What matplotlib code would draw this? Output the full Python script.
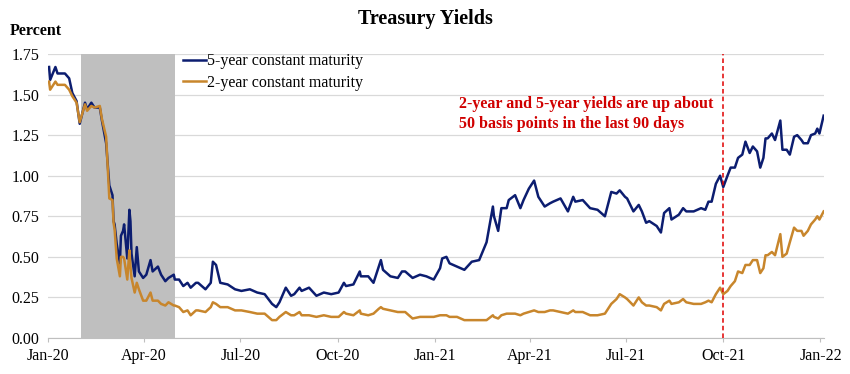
import matplotlib
matplotlib.use("Agg")
import matplotlib.pyplot as plt
import matplotlib.dates as mdates
import numpy as np
import pandas as pd

# dates of the readings (irregular, denser where the lines move a lot)
dates = [
    "2020-01-02", "2020-01-03", "2020-01-08", "2020-01-10", "2020-01-17", "2020-01-21",
    "2020-01-24", "2020-01-28", "2020-01-31", "2020-02-05", "2020-02-07", "2020-02-11",
    "2020-02-14", "2020-02-19", "2020-02-21", "2020-02-25", "2020-02-28", "2020-03-02",
    "2020-03-03", "2020-03-04", "2020-03-06", "2020-03-09", "2020-03-10", "2020-03-12",
    "2020-03-13", "2020-03-16", "2020-03-18", "2020-03-19", "2020-03-20", "2020-03-23",
    "2020-03-25", "2020-03-27", "2020-03-31", "2020-04-03", "2020-04-07", "2020-04-09",
    "2020-04-14", "2020-04-17", "2020-04-21", "2020-04-24", "2020-04-29", "2020-04-30",
    "2020-05-04", "2020-05-08", "2020-05-12", "2020-05-15", "2020-05-20", "2020-05-22",
    "2020-05-29", "2020-06-03", "2020-06-05", "2020-06-08", "2020-06-12", "2020-06-19",
    "2020-06-26", "2020-07-02", "2020-07-10", "2020-07-17", "2020-07-24", "2020-07-31",
    "2020-08-04", "2020-08-07", "2020-08-13", "2020-08-18", "2020-08-21", "2020-08-26",
    "2020-08-28", "2020-09-04", "2020-09-11", "2020-09-18", "2020-09-25", "2020-10-02",
    "2020-10-07", "2020-10-09", "2020-10-16", "2020-10-22", "2020-10-23", "2020-10-30",
    "2020-11-04", "2020-11-09", "2020-11-11", "2020-11-13", "2020-11-20", "2020-11-27",
    "2020-12-01", "2020-12-04", "2020-12-11", "2020-12-18", "2020-12-24", "2020-12-31",
    "2021-01-06", "2021-01-08", "2021-01-12", "2021-01-15", "2021-01-22", "2021-01-29",
    "2021-02-05", "2021-02-12", "2021-02-19", "2021-02-25", "2021-02-26", "2021-03-02",
    "2021-03-05", "2021-03-10", "2021-03-12", "2021-03-18", "2021-03-23", "2021-03-26",
    "2021-03-31", "2021-04-05", "2021-04-09", "2021-04-15", "2021-04-20", "2021-04-23",
    "2021-04-30", "2021-05-07", "2021-05-12", "2021-05-14", "2021-05-21", "2021-05-28",
    "2021-06-04", "2021-06-11", "2021-06-17", "2021-06-22", "2021-06-25", "2021-06-30",
    "2021-07-02", "2021-07-08", "2021-07-13", "2021-07-16", "2021-07-20", "2021-07-23",
    "2021-07-30", "2021-08-03", "2021-08-06", "2021-08-11", "2021-08-13", "2021-08-20",
    "2021-08-24", "2021-08-27", "2021-09-03", "2021-09-10", "2021-09-14", "2021-09-17",
    "2021-09-20", "2021-09-24", "2021-09-28", "2021-10-01", "2021-10-05", "2021-10-08",
    "2021-10-12", "2021-10-15", "2021-10-19", "2021-10-22", "2021-10-26", "2021-10-29",
    "2021-11-02", "2021-11-05", "2021-11-08", "2021-11-10", "2021-11-12", "2021-11-16",
    "2021-11-19", "2021-11-24", "2021-11-26", "2021-11-30", "2021-12-03", "2021-12-07",
    "2021-12-10", "2021-12-14", "2021-12-16", "2021-12-20", "2021-12-23", "2021-12-27",
    "2021-12-29", "2021-12-31", "2022-01-04",
]

# 5-year constant maturity, percent
five_year = [
    1.67, 1.59, 1.67, 1.63, 1.63, 1.60,
    1.51, 1.46, 1.32, 1.45, 1.41, 1.45,
    1.42, 1.42, 1.34, 1.20, 0.94, 0.88,
    0.72, 0.70, 0.58, 0.46, 0.63, 0.66,
    0.70, 0.49, 0.79, 0.72, 0.52, 0.38,
    0.56, 0.41, 0.37, 0.39, 0.48, 0.41,
    0.44, 0.39, 0.35, 0.37, 0.39, 0.36,
    0.36, 0.32, 0.34, 0.31, 0.34, 0.34,
    0.30, 0.34, 0.47, 0.45, 0.34, 0.33,
    0.30, 0.29, 0.30, 0.28, 0.27, 0.21,
    0.19, 0.22, 0.31, 0.26, 0.27, 0.31,
    0.29, 0.31, 0.26, 0.28, 0.27, 0.28,
    0.34, 0.32, 0.33, 0.41, 0.38, 0.38,
    0.34, 0.44, 0.48, 0.42, 0.38, 0.37,
    0.41, 0.41, 0.37, 0.39, 0.38, 0.36,
    0.43, 0.49, 0.50, 0.46, 0.44, 0.42,
    0.47, 0.48, 0.59, 0.81, 0.75, 0.66,
    0.80, 0.80, 0.85, 0.88, 0.80, 0.85,
    0.92, 0.97, 0.87, 0.81, 0.83, 0.84,
    0.86, 0.78, 0.87, 0.84, 0.85, 0.80,
    0.79, 0.75, 0.90, 0.89, 0.91, 0.87,
    0.86, 0.78, 0.82, 0.78, 0.71, 0.72,
    0.69, 0.65, 0.77, 0.80, 0.73, 0.76,
    0.80, 0.78, 0.78, 0.80, 0.79, 0.84,
    0.84, 0.95, 1.00, 0.93, 1.00, 1.05,
    1.05, 1.11, 1.13, 1.21, 1.14, 1.18,
    1.15, 1.05, 1.11, 1.23, 1.23, 1.26,
    1.22, 1.34, 1.16, 1.16, 1.13, 1.24,
    1.25, 1.22, 1.20, 1.20, 1.25, 1.26,
    1.29, 1.26, 1.37,
]

# 2-year constant maturity, percent
two_year = [
    1.58, 1.53, 1.58, 1.56, 1.56, 1.53,
    1.49, 1.45, 1.33, 1.44, 1.40, 1.43,
    1.42, 1.43, 1.35, 1.24, 0.86, 0.85,
    0.71, 0.67, 0.49, 0.38, 0.50, 0.50,
    0.49, 0.36, 0.54, 0.44, 0.37, 0.28,
    0.34, 0.30, 0.23, 0.23, 0.28, 0.23,
    0.23, 0.21, 0.20, 0.22, 0.20, 0.20,
    0.19, 0.16, 0.17, 0.14, 0.17, 0.17,
    0.16, 0.19, 0.22, 0.21, 0.19, 0.19,
    0.17, 0.17, 0.16, 0.15, 0.15, 0.11,
    0.11, 0.13, 0.16, 0.14, 0.14, 0.16,
    0.14, 0.14, 0.13, 0.14, 0.13, 0.13,
    0.16, 0.15, 0.14, 0.17, 0.15, 0.14,
    0.15, 0.18, 0.19, 0.18, 0.17, 0.16,
    0.16, 0.16, 0.12, 0.13, 0.13, 0.13,
    0.14, 0.14, 0.14, 0.13, 0.13, 0.11,
    0.11, 0.11, 0.11, 0.14, 0.13, 0.12,
    0.14, 0.15, 0.15, 0.15, 0.14, 0.15,
    0.16, 0.17, 0.16, 0.16, 0.17, 0.17,
    0.16, 0.15, 0.17, 0.16, 0.16, 0.14,
    0.14, 0.15, 0.21, 0.24, 0.27, 0.25,
    0.24, 0.20, 0.25, 0.22, 0.20, 0.20,
    0.19, 0.17, 0.21, 0.23, 0.21, 0.22,
    0.24, 0.22, 0.21, 0.21, 0.22, 0.23,
    0.22, 0.27, 0.31, 0.27, 0.29, 0.32,
    0.35, 0.41, 0.40, 0.45, 0.45, 0.48,
    0.48, 0.40, 0.43, 0.51, 0.51, 0.53,
    0.51, 0.64, 0.50, 0.52, 0.59, 0.68,
    0.66, 0.66, 0.63, 0.66, 0.70, 0.73,
    0.75, 0.73, 0.78,
]

y_ticks = [0.00, 0.25, 0.50, 0.75, 1.00, 1.25, 1.50, 1.75]
x_ticks = ["2020-01-01", "2020-04-01", "2020-07-01", "2020-10-01", "2021-01-01",
           "2021-04-01", "2021-07-01", "2021-10-01", "2022-01-01"]
recession = ("2020-02-01", "2020-04-30")
marker_date = "2021-10-01"
note = "2-year and 5-year yields are up about\n50 basis points in the last 90 days"

plt.rcParams['font.family'] = ['Liberation Serif', 'DejaVu Serif']

dates = pd.to_datetime(dates)

fig = plt.figure(figsize=(8.5, 3.74), dpi=100)
ax = fig.add_axes([0.0565, 0.0963, 0.9125, 0.7593])

# recession shading
ax.axvspan(pd.Timestamp(recession[0]), pd.Timestamp(recession[1]),
           color="#bfbfbf", lw=0, zorder=1)

ax.plot(dates, five_year, color="#0c1d70", lw=1.8, label="5-year constant maturity", zorder=3)
ax.plot(dates, two_year, color="#c8862c", lw=1.8, label="2-year constant maturity", zorder=3)

# dashed marker 90 days back
ax.axvline(pd.Timestamp(marker_date), color="#e00000", lw=1.1, ls=(0, (3, 2)), zorder=4)

ax.set_ylim(0, 1.75)
ax.set_xlim(pd.Timestamp("2020-01-01"), pd.Timestamp("2022-01-04"))
ax.set_yticks(y_ticks)
ax.set_yticklabels(["%.2f" % t for t in y_ticks], fontsize=11.5)
ax.set_xticks(pd.to_datetime(x_ticks))
ax.xaxis.set_major_formatter(mdates.DateFormatter("%b-%y"))
ax.tick_params(axis="x", labelsize=11.5, length=3, color="#bfbfbf", pad=4)
ax.tick_params(axis="y", length=0, pad=6)

ax.grid(axis="y", color="#d9d9d9", lw=0.9, zorder=0)
ax.set_axisbelow(True)
for s in ["top", "right", "left"]:
    ax.spines[s].set_visible(False)
ax.spines["bottom"].set_color("#bfbfbf")

ax.legend(loc="upper left", bbox_to_anchor=(0.166, 1.025), frameon=False,
          fontsize=11.5, handlelength=1.4, handletextpad=0.1, labelspacing=0.35,
          borderaxespad=0)

ax.text(pd.Timestamp("2021-01-24"), 1.38, note, color="#d00000", fontsize=11.5,
        fontweight="bold", ha="left", va="center", linespacing=1.3)

fig.text(0.5, 0.95, "Treasury Yields", ha="center", va="center",
         fontsize=14.5, fontweight="bold")
fig.text(0.012, 0.917, "Percent", ha="left", va="center", fontsize=11.5,
         fontweight="bold")

fig.savefig("out.png", dpi=100)
